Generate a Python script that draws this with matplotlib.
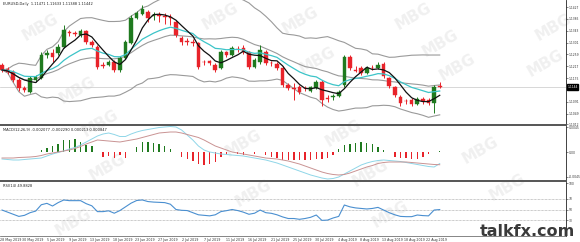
import matplotlib
matplotlib.use("Agg")
import matplotlib.pyplot as plt
import numpy as np
import pandas as pd

# ---------------- data ----------------
opens = [1.1222, 1.1208, 1.1197, 1.1169, 1.1140, 1.1126, 1.1169, 1.1176, 1.1257, 1.1264,
         1.1264, 1.1286, 1.1339, 1.1335, 1.1328, 1.1342, 1.1303, 1.1286, 1.1222, 1.1222,
         1.1233, 1.1204, 1.1247, 1.1300, 1.1388, 1.1402, 1.1410, 1.1395, 1.1399, 1.1395,
         1.1392, 1.1374, 1.1317, 1.1307, 1.1303, 1.1300, 1.1233, 1.1236, 1.1222, 1.1211,
         1.1268, 1.1257, 1.1279, 1.1282, 1.1268, 1.1215, 1.1233, 1.1268, 1.1229, 1.1225,
         1.1211, 1.1151, 1.1140, 1.1144, 1.1140, 1.1130, 1.1140, 1.1162, 1.1105, 1.1109,
         1.1112, 1.1151, 1.1250, 1.1204, 1.1211, 1.1194, 1.1211, 1.1211, 1.1225, 1.1176,
         1.1144, 1.1109, 1.1094, 1.1098, 1.1084, 1.1102, 1.1098, 1.1087, 1.1147]
closes = [1.1204, 1.1197, 1.1169, 1.1140, 1.1133, 1.1176, 1.1179, 1.1257, 1.1264, 1.1250,
          1.1286, 1.1346, 1.1335, 1.1332, 1.1342, 1.1303, 1.1293, 1.1215, 1.1218, 1.1233,
          1.1204, 1.1247, 1.1303, 1.1388, 1.1406, 1.1420, 1.1388, 1.1399, 1.1395, 1.1392,
          1.1388, 1.1328, 1.1303, 1.1303, 1.1300, 1.1215, 1.1231, 1.1229, 1.1204, 1.1268,
          1.1257, 1.1282, 1.1277, 1.1268, 1.1215, 1.1240, 1.1275, 1.1229, 1.1227, 1.1211,
          1.1151, 1.1140, 1.1137, 1.1126, 1.1139, 1.1144, 1.1162, 1.1098, 1.1102, 1.1112,
          1.1126, 1.1250, 1.1211, 1.1202, 1.1194, 1.1211, 1.1210, 1.1222, 1.1183, 1.1148,
          1.1116, 1.1087, 1.1093, 1.1084, 1.1102, 1.1094, 1.1087, 1.1144, 1.1144]
highs = [1.1229, 1.1215, 1.1204, 1.1176, 1.1148, 1.1183, 1.1187, 1.1268, 1.1275, 1.1279,
         1.1296, 1.1364, 1.1346, 1.1342, 1.1349, 1.1346, 1.1310, 1.1293, 1.1233, 1.1240,
         1.1240, 1.1254, 1.1310, 1.1399, 1.1413, 1.1434, 1.1417, 1.1410, 1.1410, 1.1406,
         1.1402, 1.1381, 1.1325, 1.1317, 1.1314, 1.1303, 1.1240, 1.1240, 1.1229, 1.1275,
         1.1271, 1.1289, 1.1289, 1.1293, 1.1271, 1.1247, 1.1293, 1.1275, 1.1236, 1.1233,
         1.1218, 1.1158, 1.1158, 1.1151, 1.1148, 1.1148, 1.1169, 1.1169, 1.1116, 1.1119,
         1.1133, 1.1257, 1.1257, 1.1218, 1.1218, 1.1218, 1.1222, 1.1233, 1.1233, 1.1179,
         1.1148, 1.1116, 1.1102, 1.1105, 1.1109, 1.1109, 1.1105, 1.1151, 1.1163]
lows = [1.1197, 1.1190, 1.1162, 1.1130, 1.1126, 1.1123, 1.1162, 1.1172, 1.1247, 1.1233,
        1.1257, 1.1282, 1.1325, 1.1325, 1.1321, 1.1296, 1.1286, 1.1208, 1.1211, 1.1218,
        1.1197, 1.1197, 1.1243, 1.1296, 1.1385, 1.1399, 1.1374, 1.1381, 1.1374, 1.1367,
        1.1364, 1.1321, 1.1293, 1.1293, 1.1289, 1.1208, 1.1222, 1.1222, 1.1197, 1.1208,
        1.1250, 1.1254, 1.1268, 1.1261, 1.1208, 1.1211, 1.1225, 1.1222, 1.1218, 1.1204,
        1.1144, 1.1133, 1.1098, 1.1119, 1.1130, 1.1126, 1.1137, 1.1077, 1.1091, 1.1098,
        1.1109, 1.1144, 1.1204, 1.1197, 1.1187, 1.1190, 1.1204, 1.1208, 1.1176, 1.1140,
        1.1109, 1.1077, 1.1084, 1.1077, 1.1080, 1.1084, 1.1080, 1.1052, 1.1139]

macd_hist = [0.00005, 0.00005, 0.00005, 0.00005, -0.00005, -0.00005, -0.00005, 0.0003, 0.00072, 0.00103,
             0.0015, 0.0021, 0.0022, 0.0024, 0.0018, 0.0012, 0.00103, 0.00005, -0.0009, -0.00077,
             -0.00103, -0.0006, -0.00103, -0.00005, 0.0009, 0.0018, 0.0018, 0.00162, 0.0015, 0.00103,
             0.0006, 0.00005, -0.0009, -0.0012, -0.00167, -0.0021, -0.0024, -0.0021, -0.0018, -0.0009,
             -0.0006, -0.00005, -0.00041, -0.00049, -0.00005, -0.00036, -0.00005, -0.0006, -0.0009, -0.00103,
             -0.00139, -0.00139, -0.0015, -0.0015, -0.0015, -0.00139, -0.00131, -0.0012, -0.00103, -0.0006,
             0.0006, 0.0012, 0.0015, 0.00162, 0.0018, 0.00162, 0.0015, 0.0009, 0.0003, 0.00005,
             -0.0009, -0.00103, -0.00103, -0.0012, -0.0012, -0.0009, -0.00041, 0.00005, 0.0002]
macd_main = [-0.00126, -0.00135, -0.00144, -0.00144, -0.00135, -0.00126, -0.00117, -0.00108, -0.00072, -0.00036,
             -0.00009, 0.00018, 0.00054, 0.00081, 0.00126, 0.0018, 0.00234, 0.00288, 0.00324, 0.00342,
             0.00315, 0.00279, 0.00279, 0.00324, 0.0036, 0.00387, 0.00405, 0.00423, 0.00441, 0.0045,
             0.00459, 0.0045, 0.00396, 0.00306, 0.00216, 0.00108, 0.00036, 0.0, -0.00018, -0.00036,
             -0.00045, -0.00054, -0.00063, -0.00072, -0.0009, -0.00108, -0.00126, -0.00144, -0.00171, -0.00198,
             -0.00234, -0.0027, -0.00306, -0.00342, -0.00378, -0.00414, -0.00441, -0.00468, -0.00486, -0.00477,
             -0.0045, -0.00396, -0.00342, -0.00288, -0.00234, -0.00198, -0.00171, -0.00153, -0.00144, -0.00153,
             -0.00162, -0.00171, -0.00189, -0.00207, -0.00225, -0.00243, -0.00261, -0.0027, -0.00208]
macd_signal = [-0.00108, -0.00108, -0.00108, -0.00099, -0.00095, -0.0009, -0.00081, -0.00063, -0.00036, -0.00018,
               0.0, 0.00018, 0.00036, 0.00063, 0.00099, 0.00144, 0.0018, 0.00216, 0.00207, 0.00198,
               0.00189, 0.0018, 0.00198, 0.00216, 0.00234, 0.00261, 0.00288, 0.00315, 0.00342, 0.00351,
               0.0036, 0.0036, 0.00342, 0.00315, 0.00288, 0.00261, 0.00216, 0.00162, 0.00108, 0.00072,
               0.00036, 0.0, -0.00018, -0.00036, -0.00054, -0.00072, -0.0009, -0.00108, -0.00117, -0.00126,
               -0.00144, -0.00162, -0.00189, -0.00216, -0.00252, -0.00288, -0.00324, -0.0036, -0.00387, -0.00405,
               -0.00414, -0.00405, -0.00378, -0.00342, -0.00306, -0.0027, -0.00243, -0.00207, -0.00189, -0.0018,
               -0.0018, -0.0018, -0.0018, -0.00189, -0.00198, -0.00207, -0.00216, -0.00225, -0.00229]
rsi = [49, 45, 41, 37, 39, 44, 47, 59, 61.6, 56.6,
       63, 67.9, 66.7, 66.7, 66.7, 61, 57, 46, 46, 47.5,
       43, 48, 55, 62, 67, 68, 65, 64, 63.5, 63,
       60, 50, 48.5, 48, 44, 40, 39, 38, 40, 46,
       47.8, 50, 48, 45, 41, 43, 49, 44, 42.8, 40,
       36, 33, 33, 31.5, 33, 35.3, 39.6, 29.5, 30, 34,
       37, 58.5, 55, 53, 52, 51, 52, 54, 49, 44,
       40, 37, 36.5, 36.5, 39.6, 38.5, 38, 49, 49.9]

date_labels = ["28 May 2019", "30 May 2019", "5 Jun 2019", "9 Jun 2019", "13 Jun 2019",
               "18 Jun 2019", "23 Jun 2019", "27 Jun 2019", "2 Jul 2019", "7 Jul 2019",
               "11 Jul 2019", "16 Jul 2019", "21 Jul 2019", "25 Jul 2019", "30 Jul 2019",
               "4 Aug 2019", "8 Aug 2019", "13 Aug 2019", "18 Aug 2019", "22 Aug 2019"]
price_ticks = [1.1427, 1.1385, 1.1343, 1.1301, 1.1259, 1.1217, 1.1175, 1.1091, 1.1049, 1.1012]
macd_ticks = [0.004496, 0.0, -0.004496]
rsi_ticks = [100, 70, 50, 30]

title_main = "EURUSD,Daily  1.11471 1.11633 1.11388 1.11442"
title_macd = "MACD(12,26,9) -0.002077 -0.002290 0.000213 0.000847"
title_rsi = "RSI(14) 49.8828"

# ---------------- figure ----------------
W, H = 580, 242
fig = plt.figure(figsize=(W / 100, H / 100), dpi=100)
fig.patch.set_facecolor("white")

def frac(x0, y0, x1, y1):
    return [x0 / W, 1 - y1 / H, (x1 - x0) / W, (y1 - y0) / H]

RX = 566
ax = fig.add_axes(frac(0, 0, RX, 125))
axm = fig.add_axes(frac(0, 126, RX, 181), sharex=ax)
axr = fig.add_axes(frac(0, 182, RX, 236), sharex=ax)

n = len(closes)
idx = np.arange(n)
o = np.array(opens); c = np.array(closes); hi = np.array(highs); lo = np.array(lows)

GREEN = "#1f7a1f"
RED = "#e8232a"

# indicators from closes
cs = pd.Series(c)
ma_fast = cs.rolling(5, min_periods=1).mean()
ma_slow = cs.ewm(span=13, adjust=False).mean()
mid = cs.rolling(20, min_periods=1).mean()
sd = cs.rolling(20, min_periods=1).std(ddof=0)
upper = mid + 2 * sd
lower = mid - 2 * sd

ax.plot(idx, upper, color="#9a9a9a", lw=0.8, zorder=2)
ax.plot(idx, lower, color="#9a9a9a", lw=0.8, zorder=2)
ax.plot(idx, mid, color="#9a9a9a", lw=0.8, zorder=2)
ax.plot(idx, ma_slow, color="#3cc4c8", lw=0.9, zorder=4)
ax.plot(idx, ma_fast, color="#111111", lw=0.9, zorder=5)

up = c >= o
cols = np.where(up, GREEN, RED)
ax.vlines(idx, lo, hi, colors=cols, lw=0.7, zorder=3)
body_h = np.maximum(np.abs(c - o), 0.00009)
ax.bar(idx, body_h, bottom=np.minimum(o, c), width=0.64, color=cols,
       edgecolor=cols, linewidth=0.3, zorder=3)

# bid line
last = closes[-1]
ax.axhline(last, color="#c8c8c8", lw=0.5, zorder=1)

ax.set_xlim(-0.36, 100.5)
ax.set_ylim(1.1009, 1.1452)

# MACD
hist = np.array(macd_hist)
axm.bar(idx, hist, width=0.25, color=np.where(hist >= 0, GREEN, RED), zorder=3)
axm.plot(idx, macd_main, color="#8fd6e8", lw=0.7, zorder=4)
axm.plot(idx, macd_signal, color="#c99393", lw=0.7, zorder=4)
axm.set_ylim(-0.00522, 0.00468)

# RSI
for lvl in (70, 50, 30):
    axr.axhline(lvl, color="#9a9a9a", lw=0.5, ls=(0, (1, 1)), zorder=1)
axr.plot(idx, rsi, color="#4a8fd0", lw=0.8, zorder=3)
axr.set_ylim(0, 101.9)

# styling
for a in (ax, axm, axr):
    a.set_facecolor("none")
    a.spines["left"].set_visible(False)
    a.spines["right"].set_color("#222222")
    a.spines["right"].set_linewidth(0.6)
    a.yaxis.tick_right()
    a.tick_params(axis="y", labelsize=2.2, length=1.2, width=0.4, pad=0.6, colors="#333333")
    a.tick_params(axis="x", length=0)
ax.spines["top"].set_visible(False)
ax.spines["bottom"].set_color("#555555")
ax.spines["bottom"].set_linewidth(1.4)
axm.spines["top"].set_visible(False)
axm.spines["bottom"].set_color("#555555")
axm.spines["bottom"].set_linewidth(1.4)
axr.spines["top"].set_visible(False)
axr.spines["bottom"].set_color("#555555")
axr.spines["bottom"].set_linewidth(0.5)

ax.set_yticks(price_ticks)
ax.set_yticklabels([f"{v:.4f}" for v in price_ticks])
axm.set_yticks(macd_ticks)
axm.set_yticklabels(["0.0045", "0.00", "-0.0045"])
axr.set_yticks(rsi_ticks)
axr.set_yticklabels([str(v) for v in rsi_ticks])

plt.setp(ax.get_xticklabels(), visible=False)
plt.setp(axm.get_xticklabels(), visible=False)
tick_pos = [1.5 + 4 * k for k in range(len(date_labels))]
axr.set_xticks(tick_pos)
axr.set_xticklabels(date_labels, fontsize=2.3, color="#333333")
axr.tick_params(axis="x", pad=1.2)

# bid label
ax.annotate(f"{last:.4f}", xy=(1.0, last), xycoords=("axes fraction", "data"),
            xytext=(1.0, 0), textcoords="offset points", fontsize=2.2, color="white",
            va="center", ha="left",
            bbox=dict(boxstyle="square,pad=0.2", fc="black", ec="black"), annotation_clip=False)

# titles
ax.text(0.005, 0.985, title_main, transform=ax.transAxes, fontsize=2.6, va="top", ha="left", color="#222222")
axm.text(0.005, 0.97, title_macd, transform=axm.transAxes, fontsize=2.6, va="top", ha="left", color="#222222")
axr.text(0.005, 0.97, title_rsi, transform=axr.transAxes, fontsize=2.6, va="top", ha="left", color="#222222")

# watermarks
wm = [(40, 27), (77, 90), (220, 16), (300, 20), (317, 60), (413, 16), (440, 43), (457, 67),
      (553, 27), (545, 63), (100, 123), (107, 167), (243, 143), (343, 133), (370, 173),
      (480, 150), (73, 222), (253, 193), (390, 214), (507, 187)]
for (px, py) in wm:
    fig.text(px / W, 1 - py / H, "MBG", fontsize=11, fontweight="bold", color="#f0f0f0",
             rotation=30, ha="center", va="center", zorder=-5)

fig.text(527 / W, 1 - 231 / H, "talkfx.com", fontsize=11.5, fontweight="bold",
         color="#3a3a3a", ha="center", va="center", zorder=10)

fig.savefig("out.png", dpi=100, facecolor="white")
